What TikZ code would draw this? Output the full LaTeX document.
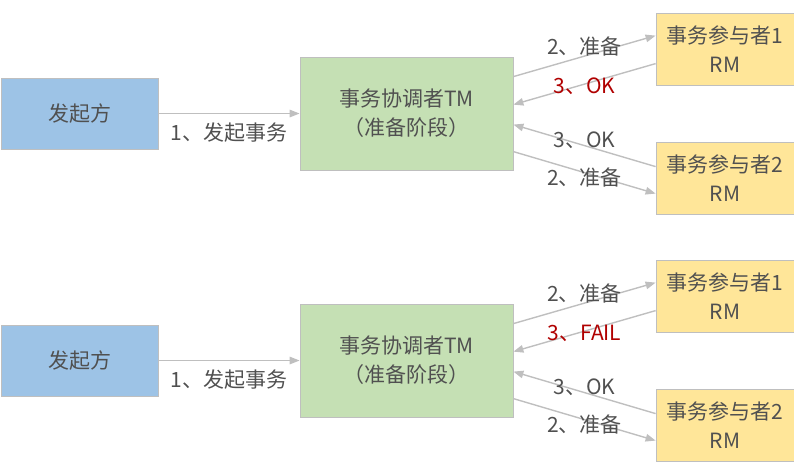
\documentclass[tikz,border=0pt]{standalone}
\usepackage{fontspec}
\usepackage{xcolor}
\usepackage{tikz}
\usetikzlibrary{arrows.meta}
\newfontfamily\cjk{Noto Sans CJK SC}
\definecolor{srcblue}{HTML}{9DC3E6}
\definecolor{tmgreen}{HTML}{C5E0B4}
\definecolor{rmyellow}{HTML}{FFE699}
\definecolor{txtgray}{HTML}{505050}
\definecolor{linegray}{HTML}{BFBFBF}
\definecolor{failred}{HTML}{B00000}

\begin{document}
\begin{tikzpicture}[x=1pt,y=-1pt,
  box/.style={draw=linegray,line width=0.8pt,inner sep=0pt,align=center,
    font=\cjk\fontsize{21}{29}\selectfont,text=txtgray},
  srcbox/.style={box,fill=srcblue,minimum width=157pt,minimum height=71pt},
  tmbox/.style={box,fill=tmgreen,minimum width=213pt,minimum height=113pt},
  rmbox/.style={box,fill=rmyellow,minimum width=138pt,minimum height=72pt},
  arr/.style={-{Triangle[length=10pt,width=7.5pt]},draw=linegray,line width=1.4pt},
  lbl/.style={font=\cjk\fontsize{21}{24}\selectfont,text=txtgray,inner sep=0pt},
  hot/.style={lbl,text=failred}]
  \useasboundingbox (0,0) rectangle (794,475);

  % Upper case: all participants answer OK
  \node[srcbox] (src) at (79.5,113.5) {发起方};
  \node[tmbox]  (tm)  at (406.5,113.5) {事务协调者TM\\（准备阶段）};
  \node[rmbox]  (rmA) at (725,49) {事务参与者1\\RM};
  \node[rmbox]  (rmB) at (725,178) {事务参与者2\\RM};

  \draw[arr] (src.east) -- (tm.west)
    node[lbl,midway,yshift=-19pt]{1、发起事务};
  \draw[arr] ([yshift=-20pt]tm.north east) -- ([yshift=-23pt]rmA.north west)
    node[lbl,midway,yshift=10pt]{2、准备};
  \draw[arr] ([yshift=-51pt]rmA.north west) -- ([yshift=-48pt]tm.north east)
    node[hot,midway,yshift=-2pt]{3、OK};
  \draw[arr] ([yshift=-25pt]rmB.north west) -- ([yshift=-68pt]tm.north east)
    node[lbl,midway,yshift=5pt]{3、OK};
  \draw[arr] ([yshift=-95pt]tm.north east) -- ([yshift=-52pt]rmB.north west)
    node[lbl,midway,yshift=-5pt]{2、准备};

  % Lower case: participant 1 fails
  \node[srcbox] (src2) at (79.5,360.5) {发起方};
  \node[tmbox]  (tm2)  at (406.5,360.5) {事务协调者TM\\（准备阶段）};
  \node[rmbox]  (rmC)  at (725,296) {事务参与者1\\RM};
  \node[rmbox]  (rmD)  at (725,425) {事务参与者2\\RM};

  \draw[arr] (src2.east) -- (tm2.west)
    node[lbl,midway,yshift=-19pt]{1、发起事务};
  \draw[arr] ([yshift=-20pt]tm2.north east) -- ([yshift=-23pt]rmC.north west)
    node[lbl,midway,yshift=10pt]{2、准备};
  \draw[arr] ([yshift=-51pt]rmC.north west) -- ([yshift=-48pt]tm2.north east)
    node[hot,midway,yshift=-2pt]{3、FAIL};
  \draw[arr] ([yshift=-25pt]rmD.north west) -- ([yshift=-68pt]tm2.north east)
    node[lbl,midway,yshift=5pt]{3、OK};
  \draw[arr] ([yshift=-95pt]tm2.north east) -- ([yshift=-52pt]rmD.north west)
    node[lbl,midway,yshift=-5pt]{2、准备};
\end{tikzpicture}
\end{document}
